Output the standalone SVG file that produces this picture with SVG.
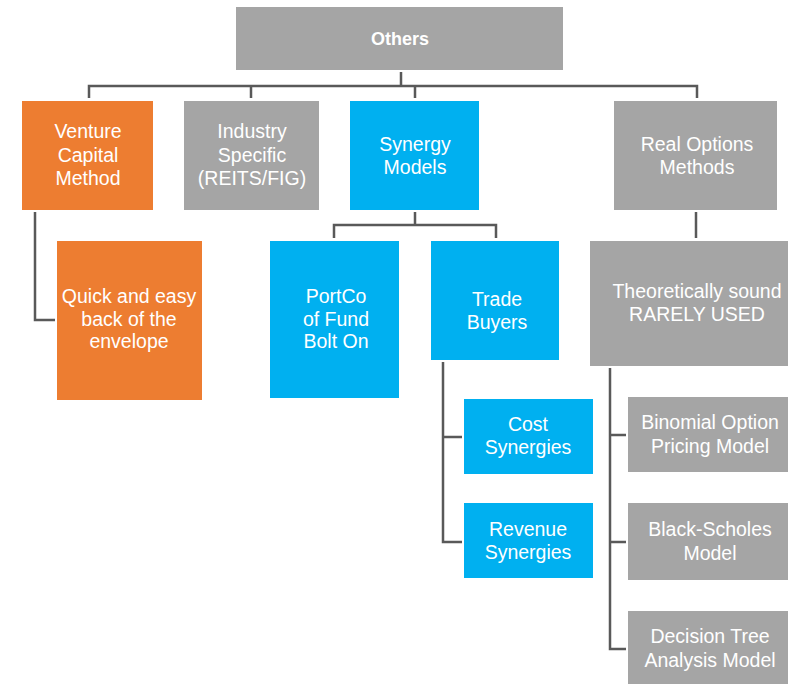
<svg xmlns="http://www.w3.org/2000/svg" width="788" height="684" viewBox="0 0 788 684">
<style>
.g{fill:#A5A5A5}.o{fill:#ED7D31}.b{fill:#00B0F0}
text{font-family:"Liberation Sans",Arial,sans-serif;font-size:19.5px;fill:#fff;text-anchor:middle}
.t{font-weight:bold;font-size:18px}
.c{fill:none;stroke:#595959;stroke-width:2.5}
</style>
<rect width="788" height="684" fill="#fff"/>
<g id="connectors" class="c">
<path d="M401 72V86M89 98V86H697V98M251 86V98M415 86V98"/>
<path d="M35 212V320H55"/>
<path d="M415 212V225M334 238V225H496V238"/>
<path d="M696 212V238"/>
<path d="M443 362V542H462M443 437H462"/>
<path d="M610 368V649H626M610 435H626M610 542H626"/>
</g>
<g id="others"><rect class="g" x="236" y="7" width="327" height="63"/><text class="t" x="400" y="45">Others</text></g>
<g id="venture"><rect class="o" x="22" y="101" width="131" height="109"/><text x="88" y="138">Venture</text><text x="88" y="162">Capital</text><text x="88" y="185">Method</text></g>
<g id="industry"><rect class="g" x="184" y="101" width="135" height="109"/><text x="252" y="138">Industry</text><text x="252" y="162">Specific</text><text x="252" y="185">(REITS/FIG)</text></g>
<g id="synergy"><rect class="b" x="350" y="101" width="129" height="109"/><text x="415" y="151">Synergy</text><text x="415" y="174">Models</text></g>
<g id="realoptions"><rect class="g" x="614" y="101" width="163" height="109"/><text x="697" y="151">Real Options</text><text x="697" y="174">Methods</text></g>
<g id="quick"><rect class="o" x="57" y="241" width="145" height="159"/><text x="129" y="303">Quick and easy</text><text x="129" y="326">back of the</text><text x="129" y="348">envelope</text></g>
<g id="portco"><rect class="b" x="270" y="241" width="129" height="157"/><text x="336" y="303">PortCo</text><text x="336" y="326">of Fund</text><text x="336" y="348">Bolt On</text></g>
<g id="trade"><rect class="b" x="431" y="241" width="128" height="119"/><text x="497" y="306">Trade</text><text x="497" y="329">Buyers</text></g>
<g id="theoretically"><rect class="g" x="590" y="241" width="210" height="125"/><text x="697" y="298">Theoretically sound</text><text x="697" y="321">RARELY USED</text></g>
<g id="cost"><rect class="b" x="464" y="399" width="129" height="75"/><text x="528" y="431">Cost</text><text x="528" y="454">Synergies</text></g>
<g id="revenue"><rect class="b" x="464" y="503" width="129" height="75"/><text x="528" y="536">Revenue</text><text x="528" y="559">Synergies</text></g>
<g id="binomial"><rect class="g" x="628" y="397" width="164" height="75"/><text x="710" y="429">Binomial Option</text><text x="710" y="453">Pricing Model</text></g>
<g id="blackscholes"><rect class="g" x="628" y="503" width="164" height="77"/><text x="710" y="536">Black-Scholes</text><text x="710" y="560">Model</text></g>
<g id="decision"><rect class="g" x="628" y="611" width="164" height="76"/><text x="710" y="643">Decision Tree</text><text x="710" y="667">Analysis Model</text></g>
</svg>
